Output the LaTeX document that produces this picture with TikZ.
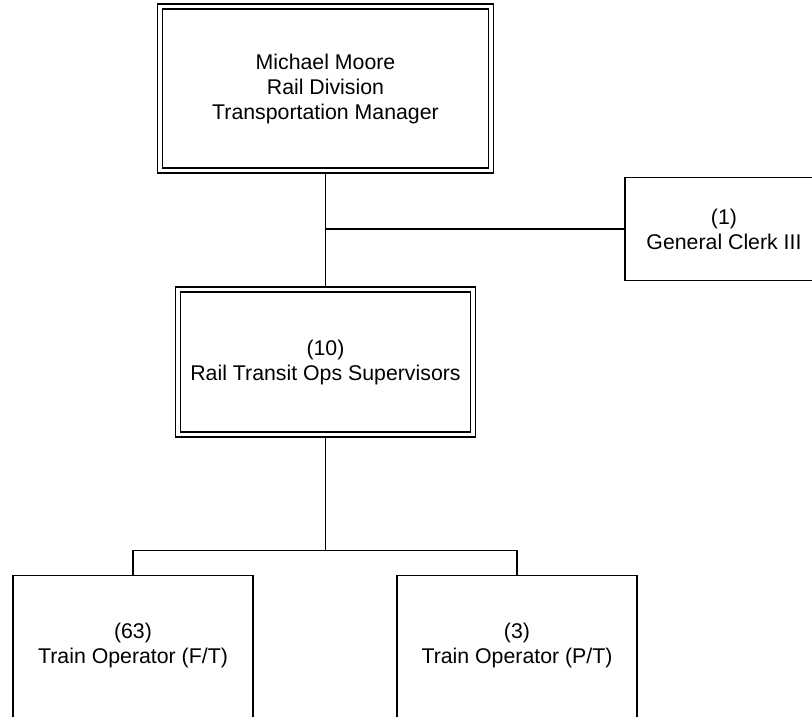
\documentclass[tikz,border=0pt]{standalone}
\usepackage{fontspec}
\setmainfont{Liberation Sans}
\usetikzlibrary{calc}
\begin{document}
\begin{tikzpicture}[x=1pt,y=-1pt,
  every node/.style={font=\fontsize{21.3}{25}\selectfont, align=center, inner sep=0pt},
  dbox/.style={draw, line width=1.3pt, double, double distance=3.7pt},
  sbox/.style={draw, line width=1.3pt},
  conn/.style={line width=1.3pt}]
\useasboundingbox (0,0) rectangle (812,717);
\clip (0,0) rectangle (812,717);
\fill[white] (0,0) rectangle (812,717);
% top box
\node[dbox, minimum width=331pt, minimum height=164pt] (top) at (325.5,88.5)
  {Michael Moore\\Rail Division\\Transportation Manager};
% clerk
\node[sbox, minimum width=198pt, minimum height=103pt] (clerk) at (724,229)
  {(1)\\General Clerk III};
% supervisors
\node[dbox, minimum width=295pt, minimum height=145pt] (mid) at (325.5,362)
  {(10)\\Rail Transit Ops Supervisors};
% bottom boxes
\node[sbox, minimum width=240pt, minimum height=160pt, anchor=north] (ftbox) at (133,575) {};
\node (ft) at ($(ftbox.north)+(0,70.5)$) {(63)\\Train Operator (F/T)};
\node[sbox, minimum width=240pt, minimum height=160pt, anchor=north] (ptbox) at (517,575) {};
\node (pt) at ($(ptbox.north)+(0,70.5)$) {(3)\\Train Operator (P/T)};
% connectors
\draw[conn, shorten <=2.5pt, shorten >=2.5pt] (top.south) -- (mid.north);
\draw[conn] (clerk.west) -- (clerk.west -| top.south);
\coordinate (bus) at ($(mid.south)+(0,115.5)$);
\draw[conn, shorten <=2.5pt] (mid.south) -- (bus);
\draw[conn] (ftbox.north) |- (bus) -| (ptbox.north);
\end{tikzpicture}
\end{document}
